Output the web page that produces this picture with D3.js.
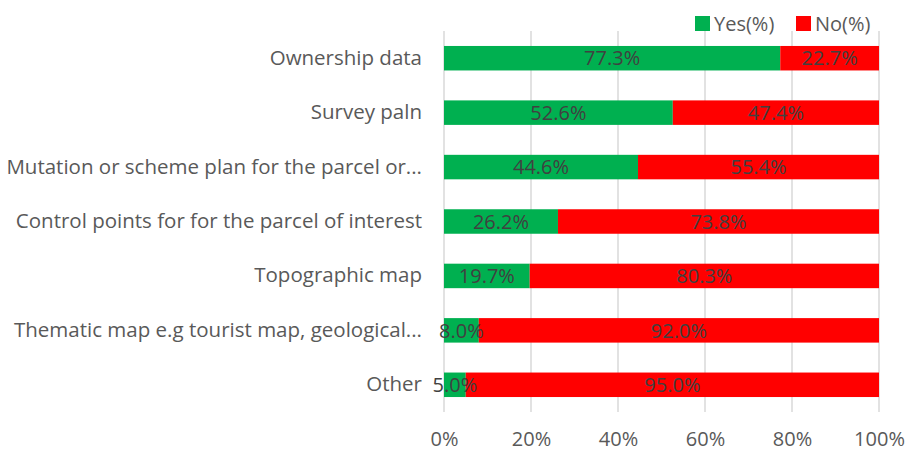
<!DOCTYPE html>
<html>
<head>
<meta charset="utf-8">
<script src="https://cdnjs.cloudflare.com/ajax/libs/d3/7.8.5/d3.min.js"></script>
<style>
  body { margin: 0; background: #fff; }
  text { font-family: "Open Sans", "Noto Sans", sans-serif; }
</style>
</head>
<body>
<div id="chart"></div>
<script>
// chart data
var categories = [
    "Ownership data",
    "Survey paln",
    "Mutation or scheme plan for the parcel or...",
    "Control points for for the parcel of interest",
    "Topographic map",
    "Thematic map e.g tourist map, geological...",
    "Other"
];
var yesValues = [77.3, 52.6, 44.6, 26.2, 19.7, 8.0, 5.0];
var noValues = [22.7, 47.4, 55.4, 73.8, 80.3, 92.0, 95.0];
var seriesNames = ["Yes(%)", "No(%)"];
var xTicks = [0, 20, 40, 60, 80, 100];

var svgWidth = 910;
var svgHeight = 454;

var margin = { top: 31, bottom: 42, right: 31, left: 444 };
var width = svgWidth - margin.left - margin.right;
var height = svgHeight - margin.top - margin.bottom;

var colors = { "Yes(%)": "#00B050", "No(%)": "#FF0000" };

var svg = d3.select("#chart")
    .append("svg")
    .attr("width", svgWidth)
    .attr("height", svgHeight);

var chartGroup = svg.append("g")
    .attr("transform", `translate(${margin.left}, ${margin.top})`);

var xScale = d3.scaleLinear().domain([0, 100]).range([0, width]);
var yScale = d3.scaleBand().domain(categories).range([0, height]).paddingInner(0.55).paddingOuter(0.275);

// gridlines
chartGroup.selectAll(".grid")
    .data(xTicks)
    .enter()
    .append("line")
    .attr("x1", d => xScale(d))
    .attr("x2", d => xScale(d))
    .attr("y1", 0)
    .attr("y2", height)
    .attr("stroke", "#d9d9d9")
    .attr("stroke-width", 1.5);

// category axis
var leftAxis = d3.axisLeft(yScale).tickSize(0).tickPadding(22);
var yAxis = chartGroup.append("g").call(leftAxis);
yAxis.select(".domain").remove();
yAxis.selectAll("text")
    .attr("fill", "#595959")
    .style("font-size", "20.5px");

// stacked rows
var rows = categories.map((c, i) => ({ cat: c, yes: yesValues[i], no: noValues[i] }));
var stack = d3.stack().keys(["yes", "no"]);
var stacked = stack(rows);

var layers = chartGroup.selectAll(".layer")
    .data(stacked)
    .enter()
    .append("g")
    .attr("fill", (d, i) => colors[seriesNames[i]]);

layers.selectAll("rect")
    .data(d => d)
    .enter()
    .append("rect")
    .attr("x", d => xScale(d[0]))
    .attr("y", d => yScale(d.data.cat))
    .attr("width", d => xScale(d[1]) - xScale(d[0]))
    .attr("height", yScale.bandwidth());

// data labels, drawn on top of all bars
var labelGroup = chartGroup.append("g");
stacked.forEach(function (layer) {
    labelGroup.selectAll(null)
        .data(layer)
        .enter()
        .append("text")
        .attr("x", d => xScale((d[0] + d[1]) / 2))
        .attr("y", d => yScale(d.data.cat) + yScale.bandwidth() / 2)
        .attr("dy", "0.36em")
        .attr("text-anchor", "middle")
        .attr("fill", "#404040")
        .style("font-size", "20px")
        .text(d => (d[1] - d[0]).toFixed(1) + "%");
});

// value axis
var bottomAxis = d3.axisBottom(xScale).tickValues(xTicks).tickSize(0).tickPadding(20).tickFormat(d => d + "%");
var xAxis = chartGroup.append("g")
    .attr("transform", `translate(0, ${height})`)
    .call(bottomAxis);
xAxis.select(".domain").remove();
xAxis.selectAll("text")
    .attr("fill", "#595959")
    .style("font-size", "20px");

// legend
var legend = svg.append("g").attr("transform", "translate(695, 16)");
var legendX = [0, 101];
seriesNames.forEach(function (name, i) {
    var item = legend.append("g").attr("transform", `translate(${legendX[i]}, 0)`);
    item.append("rect")
        .attr("width", 15)
        .attr("height", 15)
        .attr("fill", colors[name]);
    item.append("text")
        .attr("x", 19)
        .attr("y", 7.5)
        .attr("dy", "0.36em")
        .attr("fill", "#595959")
        .style("font-size", "20px")
        .text(name);
});
</script>
</body>
</html>
